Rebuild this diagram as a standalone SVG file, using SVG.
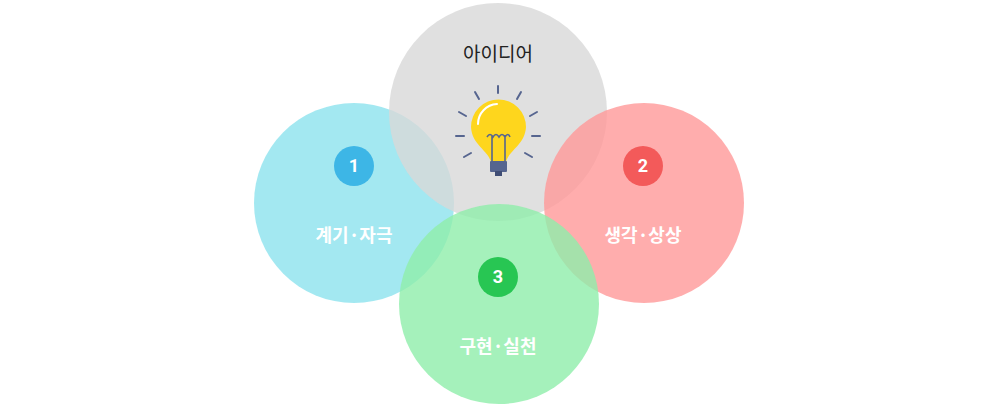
<svg xmlns="http://www.w3.org/2000/svg" width="1000" height="415" viewBox="0 0 1000 415">
<style>
.c{opacity:0.8}
.t{font-family:"Noto Sans CJK KR","Noto Sans",sans-serif;font-weight:bold;font-size:18px;fill:#fff;text-anchor:middle}
.n{font-family:Roboto,"Noto Sans",sans-serif;font-weight:bold;font-size:18px;fill:#fff;text-anchor:middle}
.r{stroke:#56658f;stroke-width:2;stroke-linecap:round}
</style>
<g id="n1"><circle class="c" cx="354" cy="203" r="100" fill="#8ce2ee"/></g>
<g id="idea"><circle class="c" cx="498" cy="112" r="109" fill="#d8d8d8"/>
<text x="498" y="61" font-family="Noto Sans CJK KR,sans-serif" font-size="19" fill="#222" text-anchor="middle">아이디어</text></g>
<g id="n2"><circle class="c" cx="644" cy="203" r="100" fill="#ff9898"/></g>
<g id="n3"><circle class="c" cx="499" cy="304" r="100" fill="#8eeeaa"/></g>
<g id="bulb">
<g class="r"><line x1="498" y1="86" x2="498" y2="93"/><line x1="475" y1="92" x2="479" y2="99"/><line x1="521" y1="92" x2="517" y2="99"/><line x1="459" y1="112" x2="466" y2="116"/><line x1="537" y1="112" x2="530" y2="116"/><line x1="456" y1="136" x2="464" y2="136"/><line x1="532" y1="136" x2="540" y2="136"/><line x1="464" y1="157" x2="471" y2="153"/><line x1="532" y1="157" x2="525" y2="153"/></g>
<path d="M491 162 C488 150 472 145 471 127 A27.5 27.5 0 0 1 526 127 C525 145 509 150 506 162 Z" fill="#fed61d"/>
<path d="M478 124 A20 20 0 0 1 497 104" fill="none" stroke="#fff" stroke-width="2" stroke-linecap="round"/>
<path d="M492 161 V135 M505 161 V135 M487 137 q3 -5 6 0 q3 -5 6 0 q3 -5 6 0 q3 -5 5 0" fill="none" stroke="#56658f" stroke-width="1.6"/>
<rect x="490" y="161" width="17" height="11" rx="1" fill="#56658f"/>
<rect x="495" y="171" width="7" height="5" fill="#3f4d75"/>
</g>
<g id="b1"><circle cx="354" cy="166" r="20" fill="#3db6e6"/><text class="n" x="354" y="172">1</text><text class="t" x="354" y="242">계기·자극</text></g>
<g id="b2"><circle cx="643" cy="166" r="20" fill="#f35a5a"/><text class="n" x="643" y="172">2</text><text class="t" x="643" y="242">생각·상상</text></g>
<g id="b3"><circle cx="498" cy="277" r="20" fill="#28c653"/><text class="n" x="498" y="283">3</text><text class="t" x="498" y="353">구현·실천</text></g>
<g id="connectors"/>
</svg>
